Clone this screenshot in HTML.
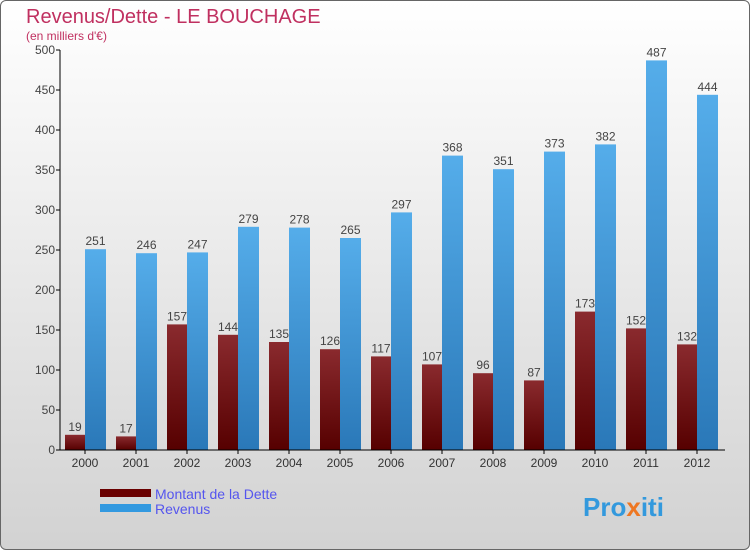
<!DOCTYPE html>
<html><head><meta charset="utf-8"><style>
body{margin:0}
#wrap{width:748px;height:548px;border:1px solid #666;border-radius:6px;overflow:hidden;background:linear-gradient(#ffffff,#d2d2d2);position:relative;font-family:"Liberation Sans",sans-serif}
</style></head><body>
<div id="wrap">
<svg id="c" width="750" height="550" style="position:absolute;left:-1px;top:-1px">
<defs>
<linearGradient id="gd" x1="0" y1="0" x2="0" y2="1"><stop offset="0" stop-color="#8a2a2e"/><stop offset="1" stop-color="#560000"/></linearGradient>
<linearGradient id="gb" x1="0" y1="0" x2="0" y2="1"><stop offset="0" stop-color="#55adea"/><stop offset="1" stop-color="#2a78b8"/></linearGradient>
</defs>
<text x="26" y="23" font-size="20" fill="#c03060">Revenus/Dette - LE BOUCHAGE</text>
<text x="26" y="40" font-size="12" fill="#c03060">(en milliers d'€)</text>
<g id="bars"></g>
<g id="axes"></g>
<rect x="100" y="489" width="51" height="8" fill="#6a0000"/>
<rect x="100" y="504" width="51" height="8" fill="#3399e0"/>
<text x="155" y="499" font-size="14" fill="#5555ee">Montant de la Dette</text>
<text x="155" y="514" font-size="14" fill="#5555ee">Revenus</text>
<text x="583" y="516" font-size="26" font-weight="bold" fill="#3399dd">Pro<tspan fill="#ee7722">x</tspan>iti</text>
</svg>
</div>
<script>
const years=["2000","2001","2002","2003","2004","2005","2006","2007","2008","2009","2010","2011","2012"];
const dette=[19,17,157,144,135,126,117,107,96,87,173,152,132];
const revenus=[251,246,247,279,278,265,297,368,351,373,382,487,444];
const yTicks=[0,50,100,150,200,250,300,350,400,450,500];
const NS="http://www.w3.org/2000/svg";
const y=v=>450-v*0.8;
const xc=i=>85+i*51;
function mk(t,a,p){const e=document.createElementNS(NS,t);for(const k in a)e.setAttribute(k,a[k]);p.appendChild(e);return e;}
const bars=document.getElementById('bars'),axes=document.getElementById('axes');
years.forEach((yr,i)=>{
 const d=mk('rect',{x:xc(i)-20,y:y(dette[i]),width:20,height:450-y(dette[i]),fill:'url(#gd)'},bars);
 
 
 const b=mk('rect',{x:xc(i),y:y(revenus[i]),width:21,height:450-y(revenus[i]),fill:'url(#gb)'},bars);
 
 
 const t1=mk('text',{x:xc(i)-10,y:y(dette[i])-4,'font-size':12,fill:'#444','text-anchor':'middle'},bars);t1.textContent=dette[i];
 
 
 const t2=mk('text',{x:xc(i)+10.5,y:y(revenus[i])-4,'font-size':12,fill:'#444','text-anchor':'middle'},bars);t2.textContent=revenus[i];
 
 
 const xl=mk('text',{x:xc(i),y:467,'font-size':12,fill:'#333','text-anchor':'middle'},axes);xl.textContent=yr;
 
 
 mk('line',{x1:xc(i),x2:xc(i),y1:450,y2:454,stroke:'#000'},axes);
});
yTicks.forEach(v=>{
 mk('line',{x1:56,x2:60,y1:y(v),y2:y(v),stroke:'#000'},axes);
 const t=mk('text',{x:55,y:y(v)+4,'font-size':12,fill:'#444','text-anchor':'end'},axes);t.textContent=v;
 
 
});
const ya=mk('line',{x1:60,x2:60,y1:50,y2:450,stroke:'#000'},axes);


const xa=mk('line',{x1:60,x2:725,y1:450,y2:450,stroke:'#000'},axes);


</script>
</body></html>
